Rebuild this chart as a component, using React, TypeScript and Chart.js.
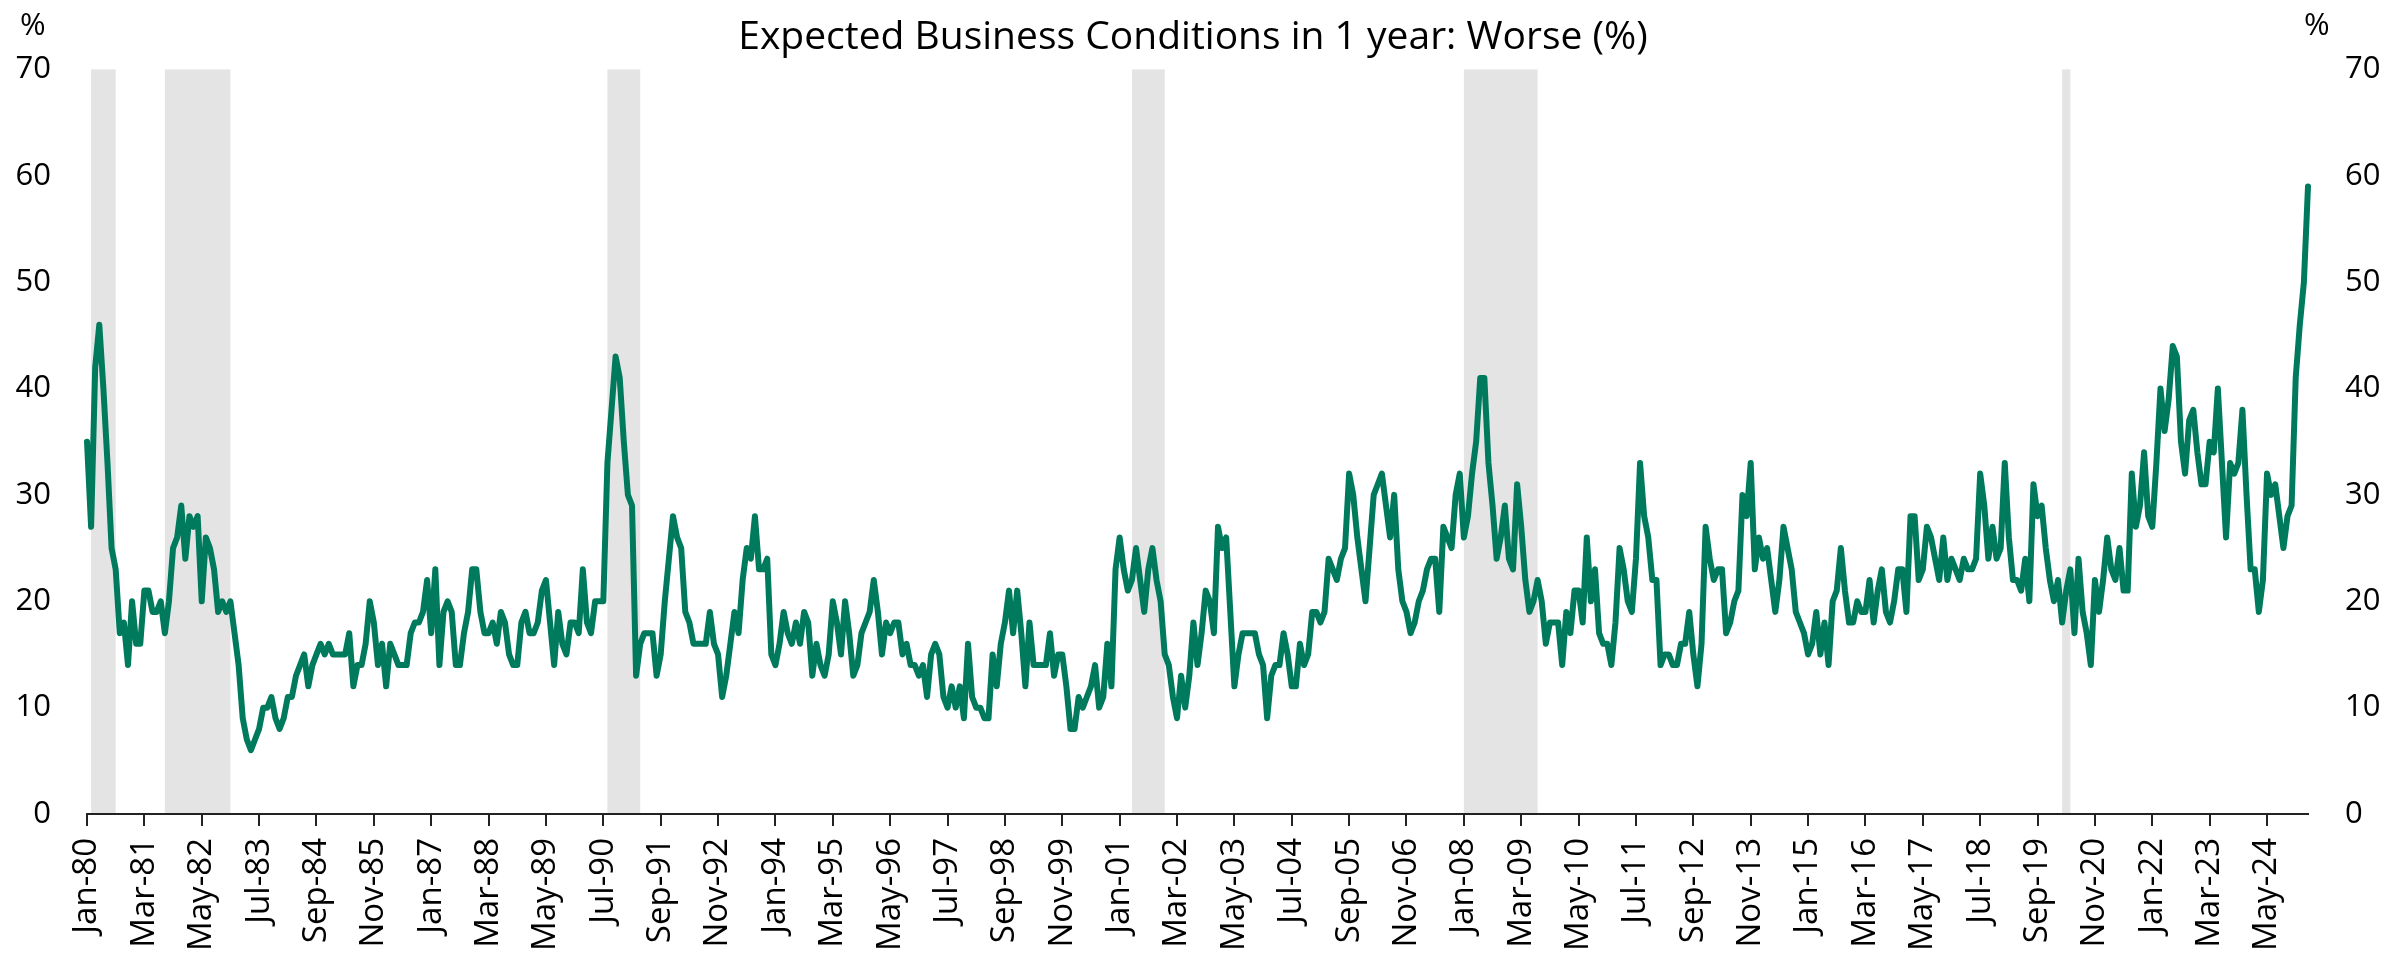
import React, { useEffect, useRef } from 'react';
import { Chart, registerables } from 'chart.js';

Chart.register(...registerables);

const TITLE = 'Expected Business Conditions in 1 year: Worse (%)';
const UNIT_LABEL = '%';
const MONTH_NAMES = ['Jan', 'Feb', 'Mar', 'Apr', 'May', 'Jun', 'Jul', 'Aug', 'Sep', 'Oct', 'Nov', 'Dec'];
const FIRST_YEAR = 1980;
const TICK_EVERY = 14;
const Y_MIN = 0;
const Y_MAX = 70;
const Y_STEP = 10;

// Monthly values (%), one array per year
const y1980 = [35, 27, 42, 46, 40, 33, 25, 23, 17, 18, 14, 20];
const y1981 = [16, 16, 21, 21, 19, 19, 20, 17, 20, 25, 26, 29];
const y1982 = [24, 28, 27, 28, 20, 26, 25, 23, 19, 20, 19, 20];
const y1983 = [17, 14, 9, 7, 6, 7, 8, 10, 10, 11, 9, 8];
const y1984 = [9, 11, 11, 13, 14, 15, 12, 14, 15, 16, 15, 16];
const y1985 = [15, 15, 15, 15, 17, 12, 14, 14, 16, 20, 18, 14];
const y1986 = [16, 12, 16, 15, 14, 14, 14, 17, 18, 18, 19, 22];
const y1987 = [17, 23, 14, 19, 20, 19, 14, 14, 17, 19, 23, 23];
const y1988 = [19, 17, 17, 18, 16, 19, 18, 15, 14, 14, 18, 19];
const y1989 = [17, 17, 18, 21, 22, 18, 14, 19, 16, 15, 18, 18];
const y1990 = [17, 23, 18, 17, 20, 20, 20, 33, 38, 43, 41, 35];
const y1991 = [30, 29, 13, 16, 17, 17, 17, 13, 15, 20, 24, 28];
const y1992 = [26, 25, 19, 18, 16, 16, 16, 16, 19, 16, 15, 11];
const y1993 = [13, 16, 19, 17, 22, 25, 24, 28, 23, 23, 24, 15];
const y1994 = [14, 16, 19, 17, 16, 18, 16, 19, 18, 13, 16, 14];
const y1995 = [13, 15, 20, 18, 15, 20, 17, 13, 14, 17, 18, 19];
const y1996 = [22, 19, 15, 18, 17, 18, 18, 15, 16, 14, 14, 13];
const y1997 = [14, 11, 15, 16, 15, 11, 10, 12, 10, 12, 9, 16];
const y1998 = [11, 10, 10, 9, 9, 15, 12, 16, 18, 21, 17, 21];
const y1999 = [17, 12, 18, 14, 14, 14, 14, 17, 13, 15, 15, 12];
const y2000 = [8, 8, 11, 10, 11, 12, 14, 10, 11, 16, 12, 23];
const y2001 = [26, 23, 21, 22, 25, 22, 19, 23, 25, 22, 20, 15];
const y2002 = [14, 11, 9, 13, 10, 13, 18, 14, 17, 21, 20, 17];
const y2003 = [27, 25, 26, 19, 12, 15, 17, 17, 17, 17, 15, 14];
const y2004 = [9, 13, 14, 14, 17, 15, 12, 12, 16, 14, 15, 19];
const y2005 = [19, 18, 19, 24, 23, 22, 24, 25, 32, 30, 26, 23];
const y2006 = [20, 25, 30, 31, 32, 29, 26, 30, 23, 20, 19, 17];
const y2007 = [18, 20, 21, 23, 24, 24, 19, 27, 26, 25, 30, 32];
const y2008 = [26, 28, 32, 35, 41, 41, 33, 29, 24, 26, 29, 24];
const y2009 = [23, 31, 27, 22, 19, 20, 22, 20, 16, 18, 18, 18];
const y2010 = [14, 19, 17, 21, 21, 18, 26, 20, 23, 17, 16, 16];
const y2011 = [14, 18, 25, 23, 20, 19, 24, 33, 28, 26, 22, 22];
const y2012 = [14, 15, 15, 14, 14, 16, 16, 19, 15, 12, 16, 27];
const y2013 = [24, 22, 23, 23, 17, 18, 20, 21, 30, 28, 33, 23];
const y2014 = [26, 24, 25, 22, 19, 22, 27, 25, 23, 19, 18, 17];
const y2015 = [15, 16, 19, 15, 18, 14, 20, 21, 25, 21, 18, 18];
const y2016 = [20, 19, 19, 22, 18, 21, 23, 19, 18, 20, 23, 23];
const y2017 = [19, 28, 28, 22, 23, 27, 26, 24, 22, 26, 22, 24];
const y2018 = [23, 22, 24, 23, 23, 24, 32, 29, 24, 27, 24, 25];
const y2019 = [33, 26, 22, 22, 21, 24, 20, 31, 28, 29, 25, 22];
const y2020 = [20, 22, 18, 21, 23, 17, 24, 19, 17, 14, 22, 19];
const y2021 = [22, 26, 23, 22, 25, 21, 21, 32, 27, 29, 34, 28];
const y2022 = [27, 33, 40, 36, 39, 44, 43, 35, 32, 37, 38, 34];
const y2023 = [31, 31, 35, 34, 40, 33, 26, 33, 32, 33, 38, 30];
const y2024 = [23, 23, 19, 22, 32, 30, 31, 28, 25, 28, 29, 41];
const y2025 = [46, 50, 59];

const worse = [
  ...y1980, ...y1981, ...y1982, ...y1983, ...y1984, ...y1985, ...y1986, ...y1987,
  ...y1988, ...y1989, ...y1990, ...y1991, ...y1992, ...y1993, ...y1994, ...y1995,
  ...y1996, ...y1997, ...y1998, ...y1999, ...y2000, ...y2001, ...y2002, ...y2003,
  ...y2004, ...y2005, ...y2006, ...y2007, ...y2008, ...y2009, ...y2010, ...y2011,
  ...y2012, ...y2013, ...y2014, ...y2015, ...y2016, ...y2017, ...y2018, ...y2019,
  ...y2020, ...y2021, ...y2022, ...y2023, ...y2024, ...y2025,
];

// Category labels: "Jan-80" ... one per month
const categories = worse.map((_, i) => {
  const yy = String((FIRST_YEAR + Math.floor(i / 12)) % 100).padStart(2, '0');
  return `${MONTH_NAMES[i % 12]}-${yy}`;
});

// Recession shading (start / end category)
const recessionStart = ['Feb-80', 'Aug-81', 'Aug-90', 'Apr-01', 'Jan-08', 'Mar-20'];
const recessionEnd = ['Aug-80', 'Dec-82', 'Apr-91', 'Dec-01', 'Jul-09', 'May-20'];

const FONT = '"Open Sans", "Noto Sans", sans-serif';
const LINE_COLOR = '#007a5c';
const BAND_COLOR = '#e4e4e4';
const TEXT_COLOR = '#000000';
const AXIS_COLOR = '#222222';

const recessionPlugin = {
  id: 'recessionBands',
  beforeDraw(chart: any) {
    const { ctx, chartArea, scales } = chart;
    const x = scales.x;
    ctx.save();
    ctx.fillStyle = BAND_COLOR;
    recessionStart.forEach((s, i) => {
      const a = x.getPixelForValue(categories.indexOf(s));
      const b = x.getPixelForValue(categories.indexOf(recessionEnd[i]));
      ctx.fillRect(a, chartArea.top, b - a, chartArea.bottom - chartArea.top);
    });
    ctx.restore();
  },
};

const unitPlugin = {
  id: 'unitLabels',
  afterDraw(chart: any) {
    const { ctx, chartArea } = chart;
    ctx.save();
    ctx.font = `31px ${FONT}`;
    ctx.fillStyle = TEXT_COLOR;
    ctx.textBaseline = 'middle';
    ctx.textAlign = 'left';
    ctx.fillText(UNIT_LABEL, 20, 26);
    ctx.fillText(UNIT_LABEL, chartArea.right - 4, 26);
    ctx.restore();
  },
};

export default function App() {
  const canvasRef = useRef<HTMLCanvasElement | null>(null);

  useEffect(() => {
    const canvas = canvasRef.current;
    if (!canvas) return;
    const yTicks = {
      stepSize: Y_STEP,
      color: TEXT_COLOR,
      font: { family: FONT, size: 31 },
    };
    const chart = new Chart(canvas, {
      type: 'line',
      data: {
        labels: categories,
        datasets: [
          {
            label: TITLE,
            data: worse,
            borderColor: LINE_COLOR,
            backgroundColor: LINE_COLOR,
            borderWidth: 6,
            pointRadius: 0,
            tension: 0,
            borderJoinStyle: 'round',
            borderCapStyle: 'round',
            fill: false,
          },
        ],
      },
      options: {
        responsive: false,
        animation: false,
        devicePixelRatio: 1,
        layout: { padding: 0 },
        plugins: {
          legend: { display: false },
          tooltip: { enabled: false },
          title: {
            display: true,
            text: TITLE,
            color: TEXT_COLOR,
            font: { family: FONT, size: 39, weight: 'normal' },
            padding: { top: 14, bottom: 8.6 },
          },
        },
        scales: {
          x: {
            type: 'category',
            offset: false,
            grid: {
              display: true,
              drawOnChartArea: false,
              drawTicks: true,
              tickLength: 12,
              color: AXIS_COLOR,
              lineWidth: 2,
            },
            border: { display: true, color: AXIS_COLOR, width: 2 },
            ticks: {
              autoSkip: false,
              maxRotation: 90,
              minRotation: 90,
              padding: 12,
              color: TEXT_COLOR,
              font: { family: FONT, size: 33 },
            },
            afterBuildTicks: (scale: any) => {
              scale.ticks = scale.ticks.filter((t: any) => t.value % TICK_EVERY === 0);
            },
            afterFit: (scale: any) => {
              scale.height = 141;
            },
          },
          y: {
            position: 'left',
            min: Y_MIN,
            max: Y_MAX,
            grid: { display: false, drawTicks: false },
            border: { display: false },
            ticks: { ...yTicks, padding: 36 },
            afterFit: (scale: any) => {
              scale.width = 87;
            },
          },
          y2: {
            position: 'right',
            min: Y_MIN,
            max: Y_MAX,
            grid: { display: false, drawTicks: false },
            border: { display: false },
            ticks: { ...yTicks, padding: 37 },
            afterFit: (scale: any) => {
              scale.width = 78;
            },
          },
        },
      },
      plugins: [recessionPlugin, unitPlugin],
    } as any);
    return () => chart.destroy();
  }, []);

  return (
    <div style={{ position: 'absolute', left: 0, top: 0, width: 2386, height: 955, background: '#fff' }}>
      <canvas ref={canvasRef} width={2386} height={955} style={{ display: 'block' }} />
    </div>
  );
}
